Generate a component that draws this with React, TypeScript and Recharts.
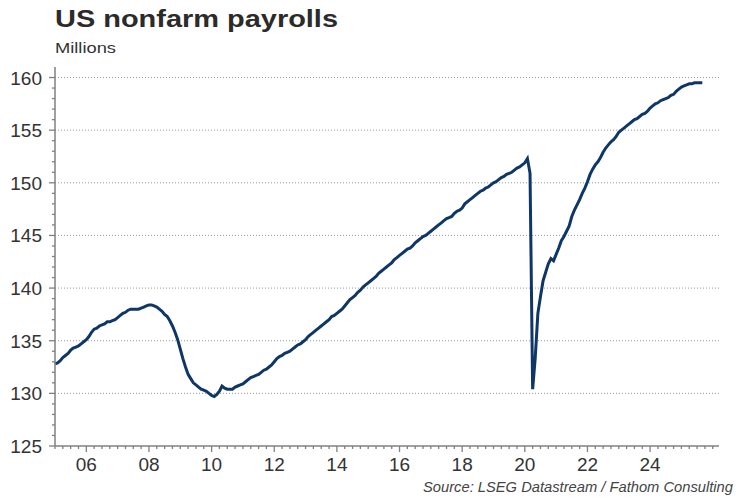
import { LineChart, Line, XAxis, YAxis, CartesianGrid } from 'recharts'

// monthly payrolls, millions
const payrolls2005 = [132.8, 132.9, 133.1, 133.4, 133.6, 133.8, 134.1, 134.3, 134.4, 134.5, 134.7, 134.9]
const payrolls2006 = [135.1, 135.4, 135.8, 136.1, 136.2, 136.4, 136.5, 136.6, 136.8, 136.8, 136.9, 137.0]
const payrolls2007 = [137.2, 137.4, 137.6, 137.7, 137.9, 138.0, 138.0, 138.0, 138.0, 138.1, 138.2, 138.3]
const payrolls2008 = [138.4, 138.4, 138.3, 138.2, 138.0, 137.8, 137.5, 137.3, 136.9, 136.4, 135.8, 135.1]
const payrolls2009 = [134.2, 133.3, 132.5, 131.8, 131.4, 131.0, 130.8, 130.6, 130.4, 130.3, 130.2, 130.0]
const payrolls2010 = [129.8, 129.7, 129.9, 130.2, 130.7, 130.5, 130.4, 130.4, 130.4, 130.6, 130.7, 130.8]
const payrolls2011 = [130.9, 131.1, 131.3, 131.5, 131.6, 131.7, 131.8, 132.0, 132.2, 132.3, 132.5, 132.7]
const payrolls2012 = [133.0, 133.3, 133.5, 133.6, 133.8, 133.9, 134.0, 134.2, 134.4, 134.6, 134.7, 134.9]
const payrolls2013 = [135.1, 135.4, 135.6, 135.8, 136.0, 136.2, 136.4, 136.6, 136.8, 137.0, 137.3, 137.4]
const payrolls2014 = [137.6, 137.8, 138.0, 138.3, 138.6, 138.9, 139.1, 139.3, 139.6, 139.8, 140.1, 140.3]
const payrolls2015 = [140.5, 140.7, 140.9, 141.1, 141.4, 141.6, 141.8, 142.0, 142.2, 142.4, 142.7, 142.9]
const payrolls2016 = [143.1, 143.3, 143.5, 143.7, 143.8, 144.0, 144.3, 144.5, 144.7, 144.9, 145.0, 145.2]
const payrolls2017 = [145.4, 145.6, 145.8, 146.0, 146.2, 146.4, 146.6, 146.7, 146.8, 147.1, 147.3, 147.4]
const payrolls2018 = [147.6, 148.0, 148.2, 148.4, 148.6, 148.8, 149.0, 149.2, 149.3, 149.5, 149.6, 149.8]
const payrolls2019 = [150.0, 150.1, 150.3, 150.5, 150.6, 150.8, 150.9, 151.0, 151.2, 151.4, 151.5, 151.7]
const payrolls2020 = [151.9, 152.3, 150.9, 130.4, 133.4, 137.6, 139.2, 140.7, 141.5, 142.3, 142.8, 142.6]
const payrolls2021 = [143.2, 143.8, 144.5, 144.9, 145.4, 145.9, 146.8, 147.4, 147.9, 148.4, 149.0, 149.5]
const payrolls2022 = [150.1, 150.8, 151.3, 151.7, 152.0, 152.4, 152.9, 153.3, 153.6, 153.9, 154.1, 154.4]
const payrolls2023 = [154.8, 155.0, 155.2, 155.4, 155.6, 155.8, 156.0, 156.1, 156.3, 156.5, 156.6, 156.8]
const payrolls2024 = [157.1, 157.3, 157.5, 157.6, 157.8, 157.9, 158.0, 158.1, 158.3, 158.4, 158.7, 158.9]
const payrolls2025 = [159.1, 159.2, 159.3, 159.4, 159.4, 159.5, 159.5, 159.5, 159.5]

const firstYear = 2005
const yearly = [
  payrolls2005, payrolls2006, payrolls2007, payrolls2008, payrolls2009, payrolls2010, payrolls2011,
  payrolls2012, payrolls2013, payrolls2014, payrolls2015, payrolls2016, payrolls2017, payrolls2018,
  payrolls2019, payrolls2020, payrolls2021, payrolls2022, payrolls2023, payrolls2024, payrolls2025,
]

const yMajor = [125, 130, 135, 140, 145, 150, 155, 160]
const xLabelYears = [2006, 2008, 2010, 2012, 2014, 2016, 2018, 2020, 2022, 2024]

const data = yearly.flatMap((vals, i) =>
  vals.map((v, m) => ({ t: firstYear + i + m / 12, payrolls: v }))
)

// quarterly minor ticks on the x axis, unit ticks on the y axis
const xTicks = Array.from({ length: 85 }, (_, i) => firstYear + i / 4)
const yTicks = Array.from({ length: 36 }, (_, i) => 125 + i)

const axisGrey = '#808080'
const textGrey = '#333333'
const font = '"Liberation Sans", Arial, sans-serif'

const XTick = (props: any) => {
  const { x, y, payload } = props
  const v = payload.value
  const yr = Math.round(v)
  const major = Math.abs(v - yr) < 1e-6 && xLabelYears.includes(yr)
  return (
    <g>
      <line x1={x} x2={x} y1={y} y2={y + (major ? 6 : 3)} stroke={axisGrey} strokeWidth={1.3} />
      {major && (
        <text x={x} y={y + 25} textAnchor="middle" fontSize={19} fontFamily={font} fill={textGrey}>
          {String(yr % 100).padStart(2, '0')}
        </text>
      )}
    </g>
  )
}

const YTick = (props: any) => {
  const { x, y, payload } = props
  const v = payload.value
  const major = yMajor.includes(v)
  return (
    <g>
      <line x1={x - (major ? 6 : 3)} x2={x} y1={y} y2={y} stroke={axisGrey} strokeWidth={1.3} />
      {major && (
        <text x={x - 13} y={y + 7} textAnchor="end" fontSize={19} fontFamily={font} fill={textGrey}>
          {v}
        </text>
      )}
    </g>
  )
}

export default function App() {
  return (
    <div style={{ position: 'absolute', left: 0, top: 0, width: 750, height: 500, background: '#fff' }}>
      <LineChart width={750} height={500} data={data} margin={{ top: 67, right: 31, left: 0, bottom: 24 }}>
        <CartesianGrid
          vertical={false}
          horizontalValues={[130, 135, 140, 145, 150, 155, 160]}
          stroke="#9a9a9a"
          strokeDasharray="1 2"
        />
        <XAxis
          dataKey="t"
          type="number"
          domain={[2005, 2026.2]}
          ticks={xTicks}
          interval={0}
          tick={<XTick />}
          tickSize={0}
          tickMargin={0}
          tickLine={false}
          height={30}
          axisLine={{ stroke: axisGrey, strokeWidth: 1.5 }}
        />
        <YAxis
          type="number"
          domain={[125, 161]}
          ticks={yTicks}
          interval={0}
          tick={<YTick />}
          tickSize={0}
          tickMargin={0}
          tickLine={false}
          width={55}
          axisLine={{ stroke: axisGrey, strokeWidth: 1.5 }}
        />
        <Line
          type="linear"
          dataKey="payrolls"
          stroke="#0e3767"
          strokeWidth={3}
          dot={false}
          isAnimationActive={false}
        />
      </LineChart>
      <svg width={750} height={500} style={{ position: 'absolute', left: 0, top: 0, pointerEvents: 'none' }}>
        <text x={55} y={27} fontSize={24} fontWeight="bold" fontFamily={font} fill="#2b2b2b" textLength={283} lengthAdjust="spacingAndGlyphs">
          US nonfarm payrolls
        </text>
        <text x={55} y={53} fontSize={14.5} fontFamily={font} fill={textGrey} textLength={61} lengthAdjust="spacingAndGlyphs">
          Millions
        </text>
        <text x={423} y={492} fontSize={14.5} fontStyle="italic" fontFamily={font} fill="#444" textLength={310} lengthAdjust="spacingAndGlyphs">
          Source: LSEG Datastream / Fathom Consulting
        </text>
      </svg>
    </div>
  )
}
